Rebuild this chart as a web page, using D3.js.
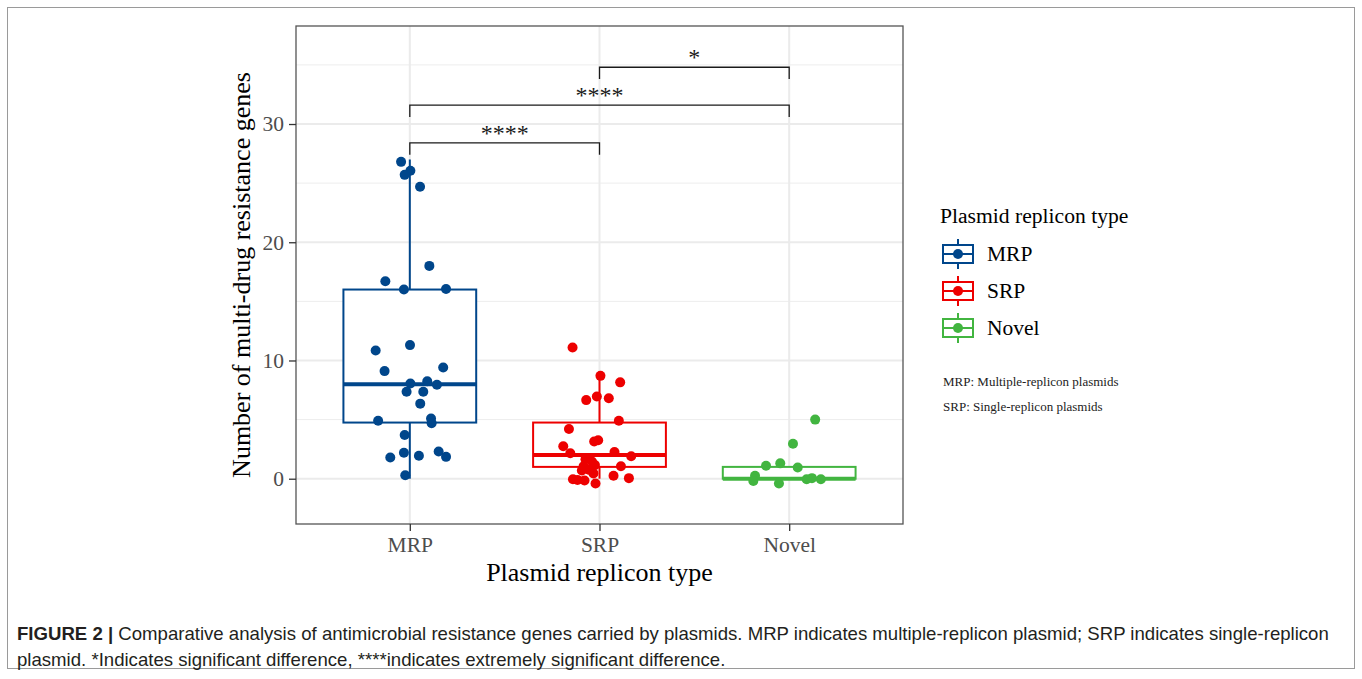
<!DOCTYPE html>
<html>
<head>
<meta charset="utf-8">
<script src="https://cdn.jsdelivr.net/npm/d3@7"></script>
<style>
  body { margin: 0; background: #fff; }
  svg { display: block; }
</style>
</head>
<body>
<div class="chart"></div>
<script>
// groups and colours (lancet palette)
const groups = ['MRP', 'SRP', 'Novel'];
const colors = ['#00468B', '#ED0000', '#42B540'];

// point values, with the horizontal jitter (in category steps)
const mrpValues = [26.8, 26.05, 25.7, 24.7, 18.0, 16.7, 16.0, 16.05, 10.85, 11.3, 9.1, 9.4, 8.05, 8.25, 7.95, 7.35, 7.35, 6.35, 4.9, 5.1, 4.7, 3.7, 2.2, 1.8, 1.95, 2.3, 1.85, 0.3];
const mrpJitter = [-0.046, 0.003, -0.027, 0.054, 0.103, -0.129, -0.031, 0.191, -0.18, 0.001, -0.133, 0.176, 0.003, 0.092, 0.143, -0.017, 0.071, 0.055, -0.167, 0.112, 0.115, -0.027, -0.031, -0.103, 0.048, 0.152, 0.191, -0.024];
const srpValues = [11.1, 8.7, 8.15, 6.65, 6.95, 6.8, 4.9, 4.2, 3.15, 3.25, 2.75, 2.15, 2.25, 1.9, 1.65, 1.05, 1.05, 1.15, 0.7, 0.45, 0.25, -0.05, -0.1, -0.15, 0.05, -0.4, 0.75, 1.45];
const srpJitter = [-0.142, 0.005, 0.109, -0.07, -0.014, 0.049, 0.102, -0.161, -0.028, -0.007, -0.191, -0.154, 0.079, 0.167, -0.074, 0.113, -0.084, -0.024, -0.093, -0.032, 0.074, -0.14, -0.116, -0.079, 0.155, -0.021, -0.054, -0.04];
const novelValues = [5.0, 2.95, 1.1, 1.3, 0.95, 0.25, -0.2, -0.4, -0.05, 0.05, -0.05];
const novelJitter = [0.137, 0.02, -0.122, -0.047, 0.045, -0.18, -0.189, -0.054, 0.092, 0.12, 0.167];

// box statistics: lower whisker, q1, median, q3, upper whisker
const boxLow = [0, 0, 0];
const boxQ1 = [4.75, 1, 0];
const boxMedian = [8, 2, 0];
const boxQ3 = [16, 4.75, 1];
const boxHigh = [27, 9, 1];

// significance brackets
const sigFrom = ['MRP', 'MRP', 'SRP'];
const sigTo = ['SRP', 'Novel', 'Novel'];
const sigY = [28.4, 31.6, 34.8];
const sigLabel = ['****', '****', '*'];

const yTicks = [0, 10, 20, 30];
const yMinor = [5, 15, 25, 35];
const notes = ['MRP: Multiple-replicon plasmids', 'SRP: Single-replicon plasmids'];

const w = 1362;
const h = 679;
const panel = { left: 296, right: 903, top: 26, bottom: 524 };
const serif = '"Liberation Serif", "Times New Roman", serif';

const svg = d3.select('.chart')
  .append('svg')
  .attr('width', w)
  .attr('height', h);

// figure frame
svg.append('rect')
  .attr('x', 7.5)
  .attr('y', 7.5)
  .attr('width', 1347)
  .attr('height', 661)
  .attr('fill', 'none')
  .attr('stroke', '#9a9a9a')
  .attr('stroke-width', 1);

const xScale = d3.scalePoint()
  .domain(groups)
  .range([panel.left, panel.right])
  .padding(0.6);
const step = xScale.step();
const yScale = d3.scaleLinear()
  .domain([-3.83, 38.29])
  .range([panel.bottom, panel.top]);
const color = d3.scaleOrdinal().domain(groups).range(colors);

// grid
const grid = svg.append('g').attr('class', 'grid');
grid.selectAll('.minor')
  .data(yMinor)
  .enter()
  .append('line')
  .attr('x1', panel.left)
  .attr('x2', panel.right)
  .attr('y1', (d) => yScale(d))
  .attr('y2', (d) => yScale(d))
  .attr('stroke', '#ededed')
  .attr('stroke-width', 1);
grid.selectAll('.major-y')
  .data(yTicks)
  .enter()
  .append('line')
  .attr('x1', panel.left)
  .attr('x2', panel.right)
  .attr('y1', (d) => yScale(d))
  .attr('y2', (d) => yScale(d))
  .attr('stroke', '#ebebeb')
  .attr('stroke-width', 2);
grid.selectAll('.major-x')
  .data(groups)
  .enter()
  .append('line')
  .attr('x1', (d) => xScale(d))
  .attr('x2', (d) => xScale(d))
  .attr('y1', panel.top)
  .attr('y2', panel.bottom)
  .attr('stroke', '#ebebeb')
  .attr('stroke-width', 2);

// boxplots
const boxW = step * 0.7;
const boxes = svg.append('g').attr('class', 'boxes')
  .selectAll('g')
  .data(groups)
  .enter()
  .append('g')
  .attr('stroke', (d) => color(d))
  .attr('fill', 'none');

boxes.append('line')
  .attr('x1', (d) => xScale(d))
  .attr('x2', (d) => xScale(d))
  .attr('y1', (d, i) => yScale(boxHigh[i]))
  .attr('y2', (d, i) => yScale(boxQ3[i]))
  .attr('stroke-width', 2);
boxes.append('line')
  .attr('x1', (d) => xScale(d))
  .attr('x2', (d) => xScale(d))
  .attr('y1', (d, i) => yScale(boxQ1[i]))
  .attr('y2', (d, i) => yScale(boxLow[i]))
  .attr('stroke-width', 2);
boxes.append('rect')
  .attr('x', (d) => xScale(d) - boxW / 2)
  .attr('y', (d, i) => yScale(boxQ3[i]))
  .attr('width', boxW)
  .attr('height', (d, i) => yScale(boxQ1[i]) - yScale(boxQ3[i]))
  .attr('fill', '#fff')
  .attr('stroke-width', 2);
boxes.append('line')
  .attr('x1', (d) => xScale(d) - boxW / 2)
  .attr('x2', (d) => xScale(d) + boxW / 2)
  .attr('y1', (d, i) => yScale(boxMedian[i]))
  .attr('y2', (d, i) => yScale(boxMedian[i]))
  .attr('stroke-width', 4);

// jittered points
const pointData = [];
[[mrpValues, mrpJitter], [srpValues, srpJitter], [novelValues, novelJitter]].forEach((pair, g) => {
  pair[0].forEach((v, i) => pointData.push({ group: groups[g], value: v, jitter: pair[1][i] }));
});

svg.append('g').attr('class', 'points')
  .selectAll('circle')
  .data(pointData)
  .enter()
  .append('circle')
  .attr('cx', (d) => xScale(d.group) + d.jitter * step)
  .attr('cy', (d) => yScale(d.value))
  .attr('r', 5)
  .attr('fill', (d) => color(d.group));

// significance brackets
const sig = svg.append('g').attr('class', 'signif')
  .selectAll('g')
  .data(sigY)
  .enter()
  .append('g');
const tip = 1.0;
sig.append('path')
  .attr('d', (d, i) => {
    const x1 = xScale(sigFrom[i]);
    const x2 = xScale(sigTo[i]);
    return `M${x1},${yScale(d - tip)}V${yScale(d)}H${x2}V${yScale(d - tip)}`;
  })
  .attr('fill', 'none')
  .attr('stroke', '#1a1a1a')
  .attr('stroke-width', 1.3);
sig.append('text')
  .attr('x', (d, i) => (xScale(sigFrom[i]) + xScale(sigTo[i])) / 2)
  .attr('y', (d) => yScale(d) - 2)
  .attr('text-anchor', 'middle')
  .style('font-family', serif)
  .style('font-size', '24px')
  .attr('fill', '#1a1a1a')
  .text((d, i) => sigLabel[i]);

// panel border
svg.append('rect')
  .attr('x', panel.left)
  .attr('y', panel.top)
  .attr('width', panel.right - panel.left)
  .attr('height', panel.bottom - panel.top)
  .attr('fill', 'none')
  .attr('stroke', '#555')
  .attr('stroke-width', 1.3);

// axes
const yAxis = svg.append('g')
  .attr('transform', `translate(${panel.left}, 0)`)
  .call(d3.axisLeft(yScale).tickValues(yTicks).tickSize(7).tickPadding(5));
const xAxis = svg.append('g')
  .attr('transform', `translate(0, ${panel.bottom})`)
  .call(d3.axisBottom(xScale).tickSize(7).tickPadding(6));
[yAxis, xAxis].forEach((ax) => {
  ax.select('.domain').remove();
  ax.selectAll('.tick line').attr('stroke', '#333').attr('stroke-width', 1.3);
  ax.selectAll('.tick text')
    .style('font-family', serif)
    .style('font-size', '21.5px')
    .attr('fill', '#4d4d4d');
});

// axis titles
svg.append('text')
  .attr('transform', `translate(250, ${(panel.top + panel.bottom) / 2}) rotate(-90)`)
  .attr('text-anchor', 'middle')
  .style('font-family', serif)
  .style('font-size', '26px')
  .attr('fill', '#000')
  .text('Number of multi-drug resistance genes');
svg.append('text')
  .attr('x', (panel.left + panel.right) / 2)
  .attr('y', 581)
  .attr('text-anchor', 'middle')
  .style('font-family', serif)
  .style('font-size', '26px')
  .attr('fill', '#000')
  .text('Plasmid replicon type');

// legend
const legend = svg.append('g')
  .attr('class', 'legend')
  .attr('transform', 'translate(940, 0)');
legend.append('text')
  .attr('x', 0)
  .attr('y', 223)
  .style('font-family', serif)
  .style('font-size', '21.6px')
  .text('Plasmid replicon type');

const keys = legend.selectAll('.key')
  .data(groups)
  .enter()
  .append('g')
  .attr('class', 'key')
  .attr('transform', (d, i) => `translate(18, ${254 + i * 37})`);
keys.append('line')
  .attr('y1', -15)
  .attr('y2', 15)
  .attr('stroke', (d) => color(d))
  .attr('stroke-width', 2);
keys.append('rect')
  .attr('x', -15)
  .attr('y', -9)
  .attr('width', 30)
  .attr('height', 18)
  .attr('fill', '#fff')
  .attr('stroke', (d) => color(d))
  .attr('stroke-width', 2);
keys.append('line')
  .attr('x1', -15)
  .attr('x2', 15)
  .attr('stroke', (d) => color(d))
  .attr('stroke-width', 2);
keys.append('circle')
  .attr('r', 5)
  .attr('fill', (d) => color(d));
keys.append('text')
  .attr('x', 29)
  .attr('y', 7)
  .style('font-family', serif)
  .style('font-size', '21.5px')
  .text((d) => d);

legend.selectAll('.note')
  .data(notes)
  .enter()
  .append('text')
  .attr('class', 'note')
  .attr('x', 3)
  .attr('y', (d, i) => 386 + i * 25)
  .style('font-family', serif)
  .style('font-size', '13px')
  .attr('fill', '#222')
  .text((d) => d);

// caption
const cap = svg.append('g')
  .style('font-family', '"Liberation Sans", Arial, sans-serif')
  .style('font-size', '18.6px')
  .attr('fill', '#231f20');
const line1 = cap.append('text').attr('x', 17).attr('y', 640);
line1.append('tspan').style('font-weight', 'bold').text('FIGURE 2 | ');
line1.append('tspan').text('Comparative analysis of antimicrobial resistance genes carried by plasmids. MRP indicates multiple-replicon plasmid; SRP indicates single-replicon');
cap.append('text').attr('x', 17).attr('y', 666)
  .text('plasmid. *Indicates significant difference, ****indicates extremely significant difference.');
</script>
</body>
</html>
